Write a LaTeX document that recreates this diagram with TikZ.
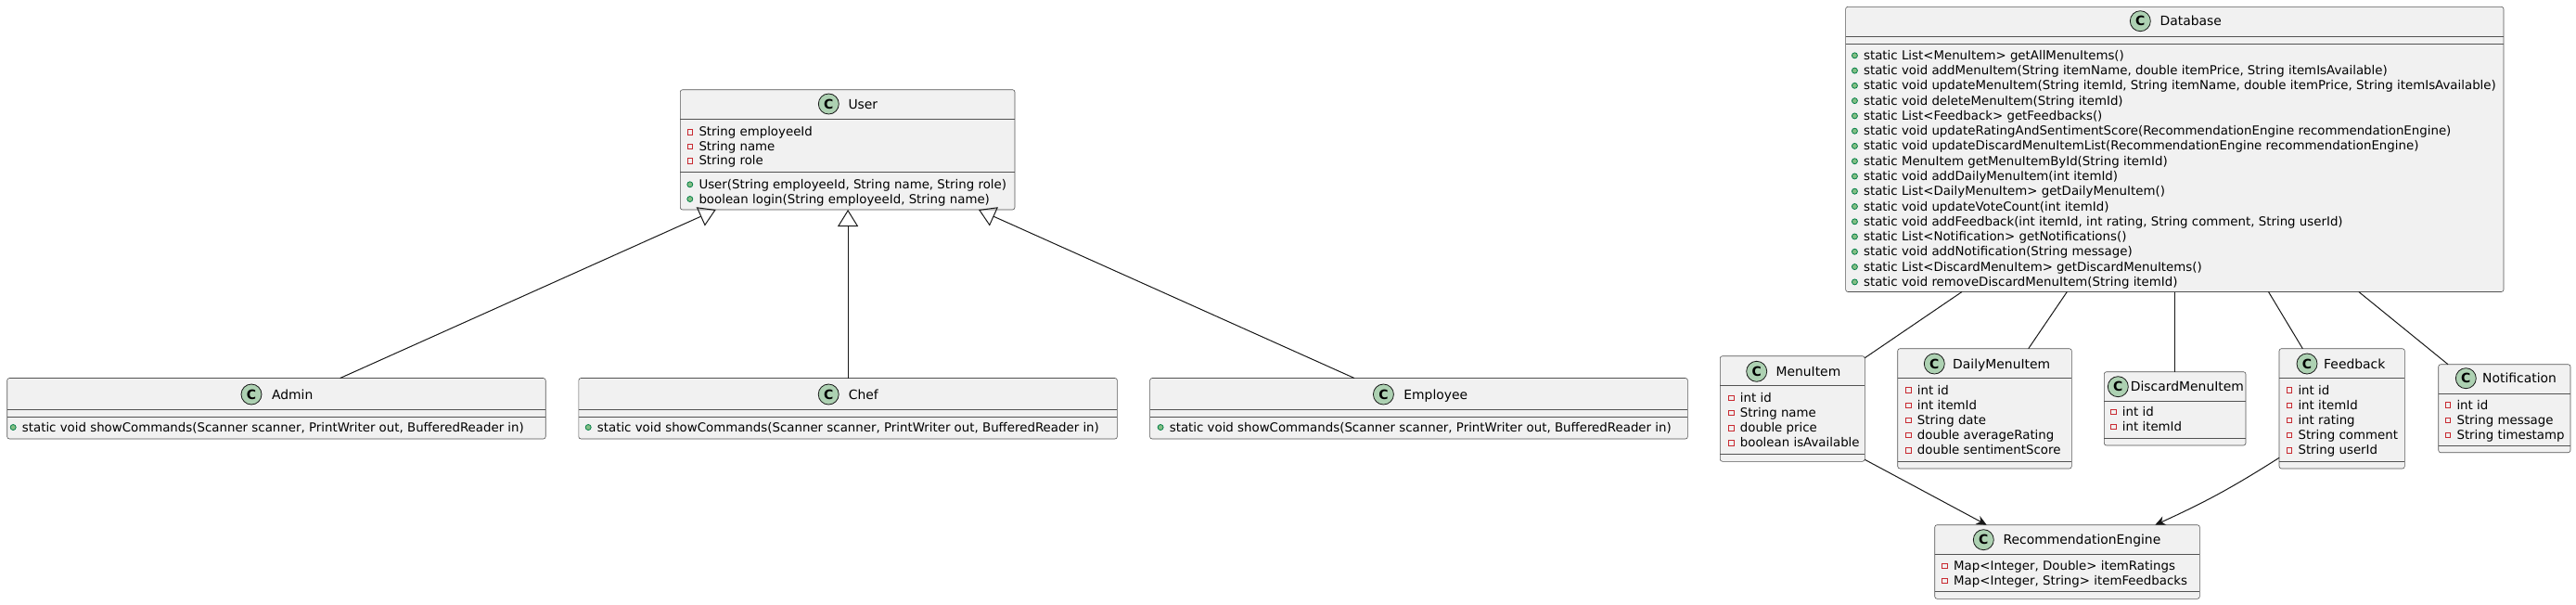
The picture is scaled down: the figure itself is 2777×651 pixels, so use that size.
\documentclass[tikz,border=0pt]{standalone}
\usepackage{fontspec}
\setmainfont{DejaVu Sans}
\usetikzlibrary{arrows.meta}
\definecolor{boxfill}{HTML}{F1F1F1}
\definecolor{boxline}{HTML}{181818}
\definecolor{iconfill}{HTML}{ADD1B2}
\definecolor{privred}{HTML}{C82930}
\definecolor{pubfill}{HTML}{84BE84}
\definecolor{publine}{HTML}{038048}
\newcounter{rowc}
\tikzset{
 classbox/.style={draw=boxline!75, line width=0.6pt, fill=boxfill, rounded corners=2.5pt, inner sep=0pt, outer sep=0pt},
 sepline/.style={draw=boxline!75, line width=0.6pt},
 icon/.style={circle, draw=boxline, line width=0.8pt, fill=iconfill, minimum size=22pt, inner sep=0pt, font=\fontsize{14}{14}\selectfont\bfseries},
 cname/.style={anchor=base west, inner sep=0pt, font=\fontsize{13.9}{16}\selectfont},
 rowtext/.style={anchor=base west, inner sep=0pt, font=\fontsize{13.35}{16}\selectfont},
 privmark/.style={rectangle, draw=privred, line width=0.9pt, minimum size=5.5pt, inner sep=0pt},
 pubmark/.style={circle, draw=publine, fill=pubfill, line width=0.8pt, minimum size=6pt, inner sep=0pt},
 link/.style={draw=boxline, line width=1pt},
 gen/.style={link, -{Triangle[open, length=18pt, width=22pt, line width=1pt]}},
 dep/.style={link, -{Stealth[length=11pt, width=10pt, inset=3.5pt]}},
}
% name, L, T, R, B
\newcommand\umlclass[5]{%
 \node[classbox, minimum width={(#4-#2)*1pt}, minimum height={(#5-#3)*1pt}] (#1) at ({(#2+#4)/2},{-(#3+#5)/2}) {};}
% name, top, y
\newcommand\usep[3]{%
 \draw[sepline] ([yshift={(#2-#3)*1pt}]#1.north west) -- ([yshift={(#2-#3)*1pt}]#1.north east);}
% name, cx, cy, namex, text
\newcommand\uhead[5]{%
 \node[icon] (#1-icon) at (#2,-#3) {C};
 \node[cname] (#1-name) at (#4,{-#3-5}) {#5};}
% x, y, text
\newcommand\prow[3]{\stepcounter{rowc}%
 \node[privmark] (m\arabic{rowc}) at ({#1-9.5},{-#2-0.5}) {};
 \node[rowtext] (t\arabic{rowc}) at (#1,{-#2-5}) {#3};}
\newcommand\mrow[3]{\stepcounter{rowc}%
 \node[pubmark] (m\arabic{rowc}) at ({#1-9.5},{-#2-0.5}) {};
 \node[rowtext] (t\arabic{rowc}) at (#1,{-#2-5}) {#3};}
\begin{document}
\begin{tikzpicture}[x=1pt,y=1pt]
\useasboundingbox (0,0) rectangle (2777,-651);
% ---------- User ----------
\umlclass{user}{733.3}{96.7}{1094}{226}
\usep{user}{96.7}{128.3}
\usep{user}{96.7}{185.7}
\uhead{user}{893.3}{112}{914.3}{User}
\prow{753.3}{141.7}{String employeeId}
\prow{753.3}{157.3}{String name}
\prow{753.3}{172.7}{String role}
\mrow{753.3}{198.3}{User(String employeeId, String name, String role)}
\mrow{753.3}{214}{boolean login(String employeeId, String name)}
% ---------- Admin / Chef / Employee ----------
\umlclass{admin}{7.7}{407.5}{588.2}{473}
\usep{admin}{407.5}{441}
\usep{admin}{407.5}{449}
\uhead{admin}{271}{425}{292.8}{Admin}
\mrow{23.7}{460}{static void showCommands(Scanner scanner, PrintWriter out, BufferedReader in)}
\umlclass{chef}{623.8}{407.5}{1204.4}{473}
\usep{chef}{407.5}{441}
\usep{chef}{407.5}{449}
\uhead{chef}{893.2}{425}{914.7}{Chef}
\mrow{643.7}{460}{static void showCommands(Scanner scanner, PrintWriter out, BufferedReader in)}
\umlclass{employee}{1239.6}{407.5}{1819.4}{473}
\usep{employee}{407.5}{441}
\usep{employee}{407.5}{449}
\uhead{employee}{1491.4}{425}{1513.2}{Employee}
\mrow{1260.6}{460}{static void showCommands(Scanner scanner, PrintWriter out, BufferedReader in)}
% ---------- Database ----------
\umlclass{db}{1989.6}{7.3}{2699}{314.5}
\usep{db}{7.3}{39.3}
\usep{db}{7.3}{47.3}
\uhead{db}{2307.3}{22.7}{2328.4}{Database}
\mrow{2008.9}{59.3}{static List<MenuItem> getAllMenuItems()}
\mrow{2008.9}{75.6}{static void addMenuItem(String itemName, double itemPrice, String itemIsAvailable)}
\mrow{2008.9}{91.8}{static void updateMenuItem(String itemId, String itemName, double itemPrice, String itemIsAvailable)}
\mrow{2008.9}{108.1}{static void deleteMenuItem(String itemId)}
\mrow{2008.9}{124.4}{static List<Feedback> getFeedbacks()}
\mrow{2008.9}{140.7}{static void updateRatingAndSentimentScore(RecommendationEngine recommendationEngine)}
\mrow{2008.9}{156.9}{static void updateDiscardMenuItemList(RecommendationEngine recommendationEngine)}
\mrow{2008.9}{173.2}{static MenuItem getMenuItemById(String itemId)}
\mrow{2008.9}{189.5}{static void addDailyMenuItem(int itemId)}
\mrow{2008.9}{205.7}{static List<DailyMenuItem> getDailyMenuItem()}
\mrow{2008.9}{222.0}{static void updateVoteCount(int itemId)}
\mrow{2008.9}{238.3}{static void addFeedback(int itemId, int rating, String comment, String userId)}
\mrow{2008.9}{254.5}{static List<Notification> getNotifications()}
\mrow{2008.9}{270.8}{static void addNotification(String message)}
\mrow{2008.9}{287.1}{static List<DiscardMenuItem> getDiscardMenuItems()}
\mrow{2008.9}{303.4}{static void removeDiscardMenuItem(String itemId)}
% ---------- MenuItem ----------
\umlclass{menu}{1854.3}{383.7}{2010.3}{497.3}
\usep{menu}{383.7}{415.3}
\usep{menu}{383.7}{489}
\uhead{menu}{1893.7}{400.3}{1914.3}{MenuItem}
\prow{1875.7}{428.3}{int id}
\prow{1875.7}{444.5}{String name}
\prow{1875.7}{460.7}{double price}
\prow{1875.7}{476.9}{boolean isAvailable}
% ---------- DailyMenuItem ----------
\umlclass{daily}{2045.7}{375.7}{2233.3}{505}
\usep{daily}{375.7}{407.3}
\usep{daily}{375.7}{497}
\uhead{daily}{2085.3}{392}{2105}{DailyMenuItem}
\prow{2066.7}{420}{int id}
\prow{2066.7}{436.2}{int itemId}
\prow{2066.7}{452.4}{String date}
\prow{2066.7}{468.6}{double averageRating}
\prow{2066.7}{484.8}{double sentimentScore}
% ---------- DiscardMenuItem ----------
\umlclass{discard}{2268.3}{400.7}{2421}{480}
\usep{discard}{400.7}{432.3}
\usep{discard}{400.7}{472.3}
\uhead{discard}{2283.3}{416.7}{2296.7}{DiscardMenuItem}
\prow{2287.7}{443.3}{int id}
\prow{2287.7}{459.5}{int itemId}
% ---------- Feedback ----------
\umlclass{feedback}{2457}{375.7}{2592.3}{505}
\usep{feedback}{375.7}{407.3}
\usep{feedback}{375.7}{497}
\uhead{feedback}{2487}{392}{2505}{Feedback}
\prow{2477.3}{420}{int id}
\prow{2477.3}{436.2}{int itemId}
\prow{2477.3}{452.4}{int rating}
\prow{2477.3}{468.6}{String comment}
\prow{2477.3}{484.8}{String userId}
% ---------- Notification ----------
\umlclass{notif}{2628.7}{392.7}{2771}{487.7}
\usep{notif}{392.7}{424}
\usep{notif}{392.7}{480}
\uhead{notif}{2658.3}{407.7}{2676}{Notification}
\prow{2648.3}{436}{int id}
\prow{2648.3}{452.2}{String message}
\prow{2648.3}{468.4}{String timestamp}
% ---------- RecommendationEngine ----------
\umlclass{rec}{2085.7}{565.7}{2371.3}{645.3}
\usep{rec}{565.7}{597.3}
\usep{rec}{565.7}{637.3}
\uhead{rec}{2138.3}{581.7}{2159.3}{RecommendationEngine}
\prow{2106}{609.3}{Map<Integer, Double> itemRatings}
\prow{2106}{625.5}{Map<Integer, String> itemFeedbacks}
% ---------- connectors ----------
\draw[gen] ([xshift=68.75pt]admin.north) -- ([xshift=-141.95pt]user.south);
\draw[gen] (chef.north) -- (chef.north |- user.south);
\draw[gen] ([xshift=-69.5pt]employee.north) -- ([xshift=141.35pt]user.south);
\draw[link] ([xshift=-229.3pt]db.south) -- ([yshift=-2pt]menu.north east);
\draw[link] ([xshift=-116pt]db.south) -- ([xshift=47.2pt]daily.north);
\draw[link] (db.south) -- (db.south |- discard.north);
\draw[link] ([xshift=101.2pt]db.south) -- ([xshift=-42.35pt]feedback.north);
\draw[link] ([xshift=198.5pt]db.south) -- ([xshift=-60.85pt]notif.north);
\draw[dep] ([yshift=2pt]menu.south east) -- ([xshift=-86.8pt]rec.north);
\draw[dep] ([yshift=11.7pt]feedback.south west) to[bend left=4] ([xshift=94.8pt]rec.north);
\end{tikzpicture}
\end{document}
